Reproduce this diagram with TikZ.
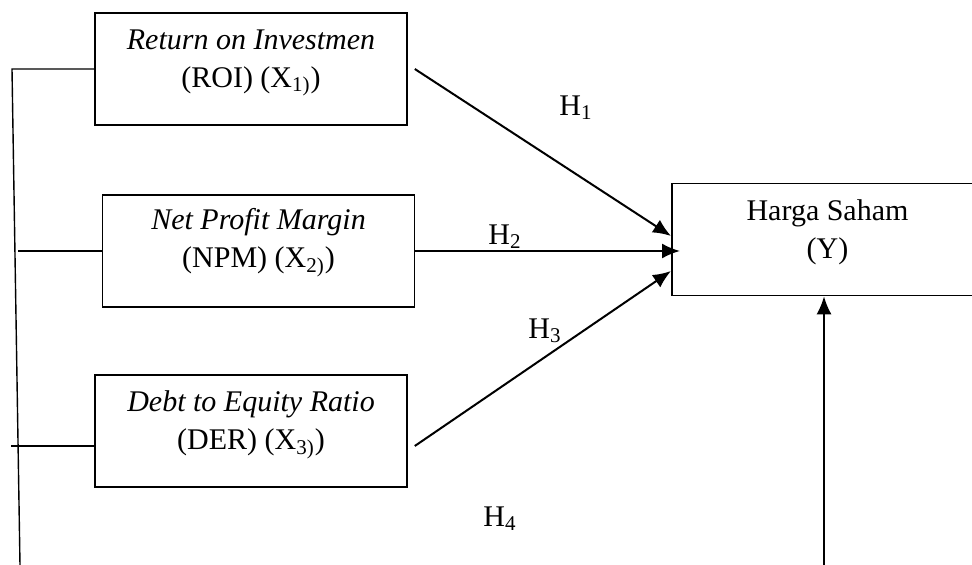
\documentclass[tikz,border=0pt]{standalone}
\usepackage{fontspec}
\setmainfont{Liberation Serif}
\usetikzlibrary{arrows.meta}
\begin{document}
\begin{tikzpicture}[x=0.5pt, y=-0.5pt,
    font=\fontsize{15}{19}\selectfont,
    box/.style={draw, line width=0.8pt, minimum width=156pt, minimum height=56pt, inner sep=0pt},
    txt/.style={align=center, inner sep=0pt},
    arr/.style={-{Latex[length=9pt, width=7.5pt]}, line width=1pt},
    link/.style={line width=0.7pt}]
    \clip (0,0) rectangle (972,565);

    % Variable boxes
    \node[box] (roi) at (251,69) {};
    \node[box] (npm) at (258.5,251) {};
    \node[box] (der) at (251,431) {};
    \node[box, minimum width=200pt, anchor=west] (harga) at (671,239.5) {};

    % Box texts
    \node[txt] (roitxt) at ([yshift=3pt]roi) {\textit{Return on Investmen}\\(ROI) (X\textsubscript{1)})};
    \node[txt] (npmtxt) at ([yshift=4pt]npm) {\textit{Net Profit Margin}\\(NPM) (X\textsubscript{2)})};
    \node[txt] (dertxt) at ([yshift=3pt]der) {\textit{Debt to Equity Ratio}\\(DER) (X\textsubscript{3)})};
    \node[txt] (hargatxt) at (827.5,232) {Harga Saham\\(Y)};

    % Left link
    \coordinate (bend) at (12,69);
    \coordinate (foot) at (20,565);
    \draw[link] (roi.west) -- (bend) -- (foot);
    \draw[link] (npm.west) -- ++(-84,0);
    \draw[link] ([yshift=-7.5pt]der.west) -- ++(-83,0);

    % Hypotheses
    \draw[arr] ([xshift=3.5pt]roi.east) -- ([yshift=1.75pt]harga.west);
    \draw[arr] (npm.east) -- ([xshift=4.5pt, yshift=-5.75pt]harga.west);
    \draw[arr] ([xshift=3.5pt, yshift=-7.5pt]der.east) -- ([yshift=-15.75pt]harga.west);
    \coordinate (base) at (824,565);
    \draw[arr] (base) -- (base |- harga.south);

    \node (h1) at (576,108) {H\textsubscript{1}};
    \node (h2) at (505,237) {H\textsubscript{2}};
    \node (h3) at (545,331) {H\textsubscript{3}};
    \node (h4) at (500,519) {H\textsubscript{4}};
\end{tikzpicture}
\end{document}
